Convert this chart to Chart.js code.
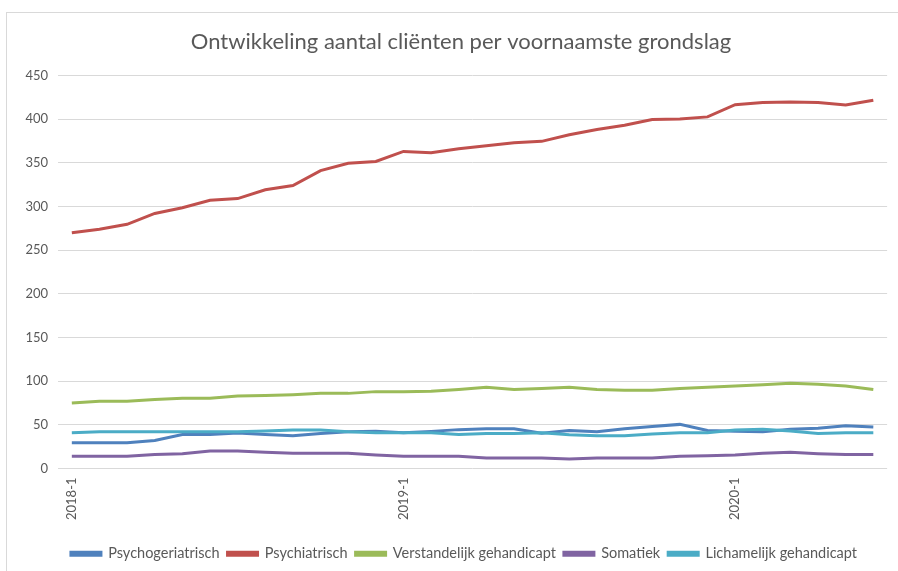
<!DOCTYPE html>
<html>
<head>
<meta charset="utf-8">
<script src="https://cdn.jsdelivr.net/npm/chart.js@4.4.1/dist/chart.umd.min.js"></script>
<style>
  html, body { margin: 0; padding: 0; background: #fff; }
  #wrap { position: relative; width: 898px; height: 571px; }
  #frame { position: absolute; left: 6px; top: 12px; right: 0; bottom: 0;
           border-top: 1px solid #d9d9d9; border-left: 1px solid #d9d9d9; }
  canvas { position: absolute; left: 0; top: 0; }
</style>
</head>
<body>
<div id="wrap">
  <div id="frame"></div>
  <canvas id="chart" width="898" height="571"></canvas>
</div>
<script>
const months = [
  '2018-1', '2018-2', '2018-3', '2018-4', '2018-5', '2018-6',
  '2018-7', '2018-8', '2018-9', '2018-10', '2018-11', '2018-12',
  '2019-1', '2019-2', '2019-3', '2019-4', '2019-5', '2019-6',
  '2019-7', '2019-8', '2019-9', '2019-10', '2019-11', '2019-12',
  '2020-1', '2020-2', '2020-3', '2020-4', '2020-5', '2020-6'
];
const shownTicks = ['2018-1', '2019-1', '2020-1'];

const psychogeriatrisch = [29.5, 29.5, 29.5, 32, 39, 39, 40.5, 39, 37.5, 40, 42, 42.5, 41, 42.5, 44.5,
  45.5, 45.5, 40.5, 43.5, 42, 45.5, 48, 50.5, 43.5, 42.5, 42, 45, 46, 49, 47.5];
const psychiatrisch = [270, 274, 279.5, 292, 298.5, 307, 309, 319, 324, 341, 349.5, 351.5, 363, 361.5, 366,
  369.5, 373, 374.5, 382, 388, 393, 399.5, 400, 402.5, 416.5, 419, 419.5, 419, 416, 421.5];
const verstandelijk = [75, 77, 77, 79, 80.5, 80.5, 83, 83.5, 84.5, 86, 86, 88, 88, 88.5, 90.5,
  93, 90.5, 91.5, 93, 90.5, 89.5, 89.5, 91.5, 93, 94.5, 96, 97.5, 96.5, 94.5, 90.5];
const somatiek = [14, 14, 14, 16, 17, 20, 20, 18.5, 17.5, 17.5, 17.5, 15.5, 14, 14, 14,
  12, 12, 12, 11, 12, 12, 12, 14, 14.5, 15.5, 17.5, 18.5, 17, 16, 16];
const lichamelijk = [41, 42, 42, 42, 42, 42, 42, 43, 44, 44, 42, 41, 41, 41, 39,
  40, 40, 41, 38.5, 37.5, 37.5, 39.5, 41, 41, 44, 45, 43, 40, 41, 41];

const seriesNames = ['Psychogeriatrisch', 'Psychiatrisch', 'Verstandelijk gehandicapt', 'Somatiek', 'Lichamelijk gehandicapt'];
const seriesData = [psychogeriatrisch, psychiatrisch, verstandelijk, somatiek, lichamelijk];
const colors = ['#4f81bd', '#c0504d', '#9bbb59', '#8064a2', '#4bacc6'];

const textColor = '#595959';
const fontFamily = 'Lato, "Open Sans", sans-serif';

// title and legend are centred on the whole Excel chart area, a bit right of ours
const shiftBlocks = {
  id: 'shiftBlocks',
  afterLayout(chart) {
    if (chart.titleBlock) chart.titleBlock.left += 24;
    if (chart.legend) chart.legend.left += 30;
  }
};

const ctx = document.getElementById('chart').getContext('2d');
const chart = new Chart(ctx, {
  type: 'line',
  data: {
    labels: months,
    datasets: seriesData.map((d, i) => ({
      label: seriesNames[i],
      data: d,
      borderColor: colors[i],
      backgroundColor: colors[i],
      borderWidth: 3,
      pointRadius: 0,
      tension: 0,
      order: seriesData.length - i
    }))
  },
  options: {
    responsive: false,
    animation: false,
    layout: { padding: { left: 5, right: 5, top: 12, bottom: 0 } },
    plugins: {
      title: {
        display: true,
        text: 'Ontwikkeling aantal cliënten per voornaamste grondslag',
        color: textColor,
        font: { family: fontFamily, size: 22, weight: 'normal' },
        padding: { top: 17, bottom: 20 }
      },
      legend: {
        position: 'bottom',
        labels: {
          color: textColor,
          font: { family: fontFamily, size: 14.5 },
          boxWidth: 30,
          boxHeight: 3,
          padding: 8,
          sort: (a, b) => a.datasetIndex - b.datasetIndex
        }
      },
      tooltip: { enabled: false }
    },
    scales: {
      x: {
        offset: true,
        grid: { display: false, drawTicks: false },
        border: { display: false },
        ticks: {
          autoSkip: false,
          minRotation: 90,
          maxRotation: 90,
          padding: 9,
          color: textColor,
          font: { family: fontFamily, size: 13 },
          callback: function (value, index) {
            const lab = months[index];
            return shownTicks.includes(lab) ? lab : '';
          }
        },
        afterFit: scale => { scale.height = 70; }
      },
      y: {
        min: 0,
        max: 450,
        grid: { color: '#d9d9d9', drawTicks: false },
        border: { display: false },
        ticks: {
          stepSize: 50,
          padding: 10,
          color: textColor,
          font: { family: fontFamily, size: 13 }
        },
        afterFit: scale => { scale.width = 53; }
      }
    }
  },
  plugins: [shiftBlocks]
});
</script>
</body>
</html>
